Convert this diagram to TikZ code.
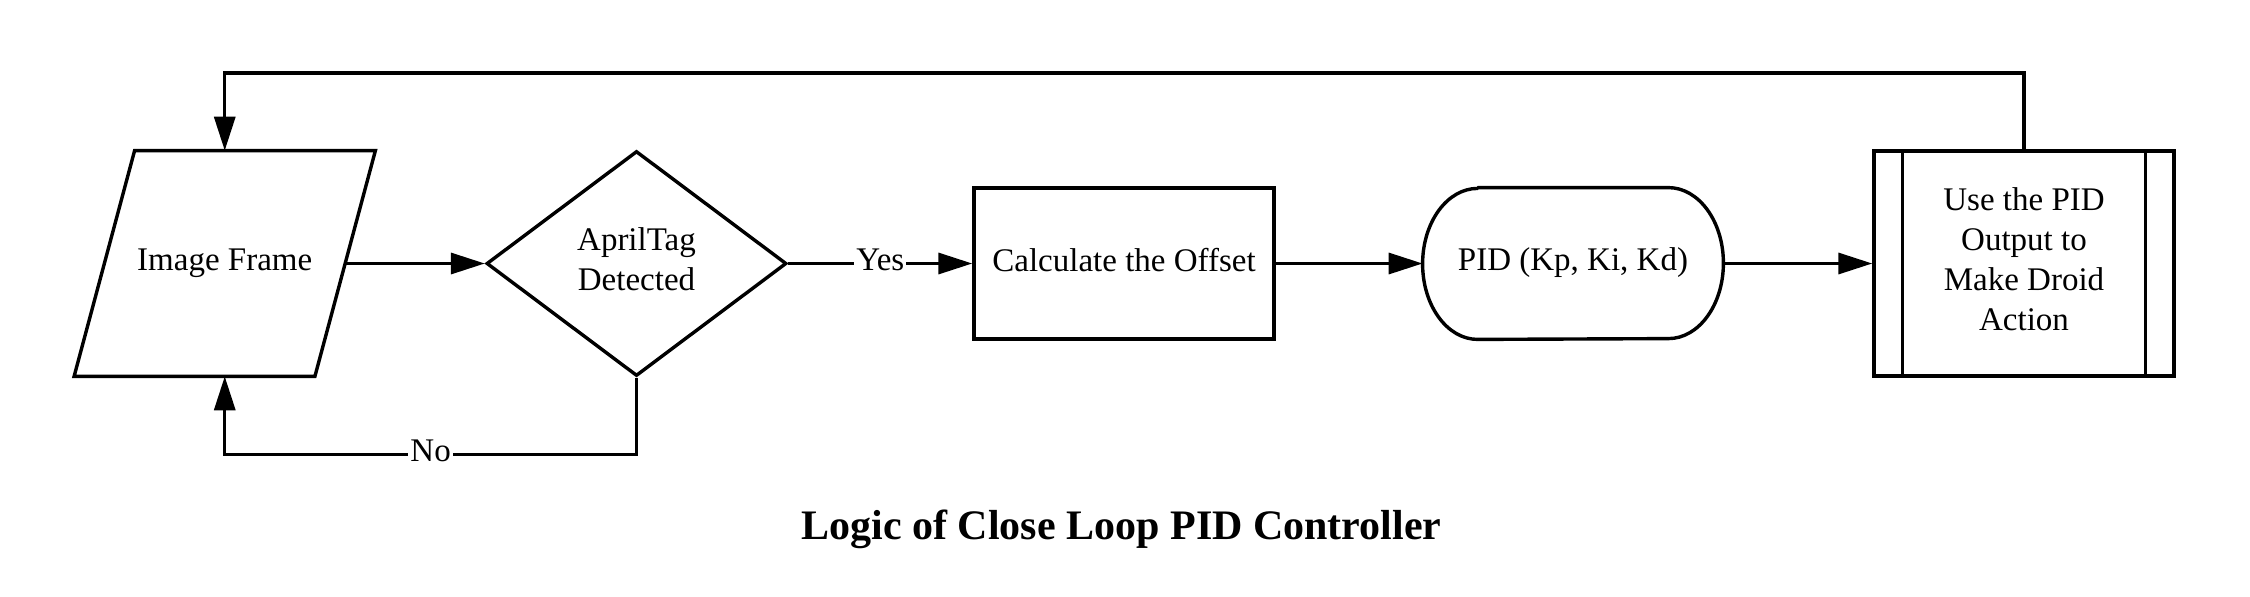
\documentclass[tikz,border=0pt]{standalone}
\usepackage{fontspec}
\setmainfont{Liberation Serif}
\usetikzlibrary{shapes.geometric,arrows.meta}

\begin{document}
\begin{tikzpicture}[x=0.5pt,y=-0.5pt,
	      every node/.style={font=\fontsize{16.5}{20}\selectfont,text depth=4pt},
	      box/.style={draw,line width=1.7pt,inner sep=0pt,align=center},
	      flow/.style={line width=1.7pt,-{Triangle[length=17pt,width=10.5pt]}},
	      lbl/.style={fill=white,inner sep=1pt}]
	      \useasboundingbox (0,0) rectangle (2250,596);
	      \node[inner sep=0pt,minimum width=120pt,minimum height=112.5pt] (frame) at (224.75,263.5) {Image Frame};
	      \node[box,diamond,aspect=1.333,minimum width=150pt,minimum height=112.5pt] (detect) at (636.5,263.5) {AprilTag\\Detected};
	      \node[box,rectangle,minimum width=150pt,minimum height=75.5pt] (calc) at (1124,263.5) {Calculate the Offset};
	      \node[inner sep=0pt,minimum width=150pt,minimum height=75.5pt] (pid) at (1573,263.5) {PID (Kp, Ki, Kd)};
	      \node[box,rectangle,minimum width=150pt,minimum height=112.5pt] (act) at (2024,263.5) {Use the PID\\Output to\\Make Droid\\Action};
	      \node[anchor=base,text depth=,font=\fontsize{21}{25}\selectfont\bfseries] (title) at (1121.5,539.3) {Logic of Close Loop PID Controller};
				\draw[line width=1.7pt] ([xshift=15.125pt]frame.north west) -- ([xshift=15.125pt]frame.north east)
				      -- ([xshift=-15.125pt]frame.south east) -- ([xshift=-15.125pt]frame.south west) -- cycle;
				\draw[line width=1.7pt,line join=round] ([xshift=27.5pt]pid.north west) -- ([xshift=-27.5pt]pid.north east)
				      arc[start angle=90,end angle=-90,x radius=27.5pt,y radius=37.75pt] -- ([xshift=27.5pt]pid.south west)
				      arc[start angle=270,end angle=90,x radius=27.5pt,y radius=37.75pt] -- cycle;
				\draw[line width=1.7pt] ([xshift=15pt]act.north west) -- ([xshift=15pt]act.south west);
				\draw[line width=1.7pt] ([xshift=-15pt]act.north east) -- ([xshift=-15pt]act.south east);
	      \draw[flow] (frame.east) -- (detect.west);
	      \draw[flow] (detect.east) -- node[lbl] {Yes} (calc.west);
	      \draw[flow] (calc.east) -- (pid.west);
	      \draw[flow] (pid.east) -- (act.west);
	      \draw[flow] (detect.south) -- ++(0,77) -| node[lbl,pos=0.25] {No} (frame.south);
	      \draw[flow] (act.north) -- ++(0,-76.5) -| (frame.north);
	  \end{tikzpicture}
\end{document}
